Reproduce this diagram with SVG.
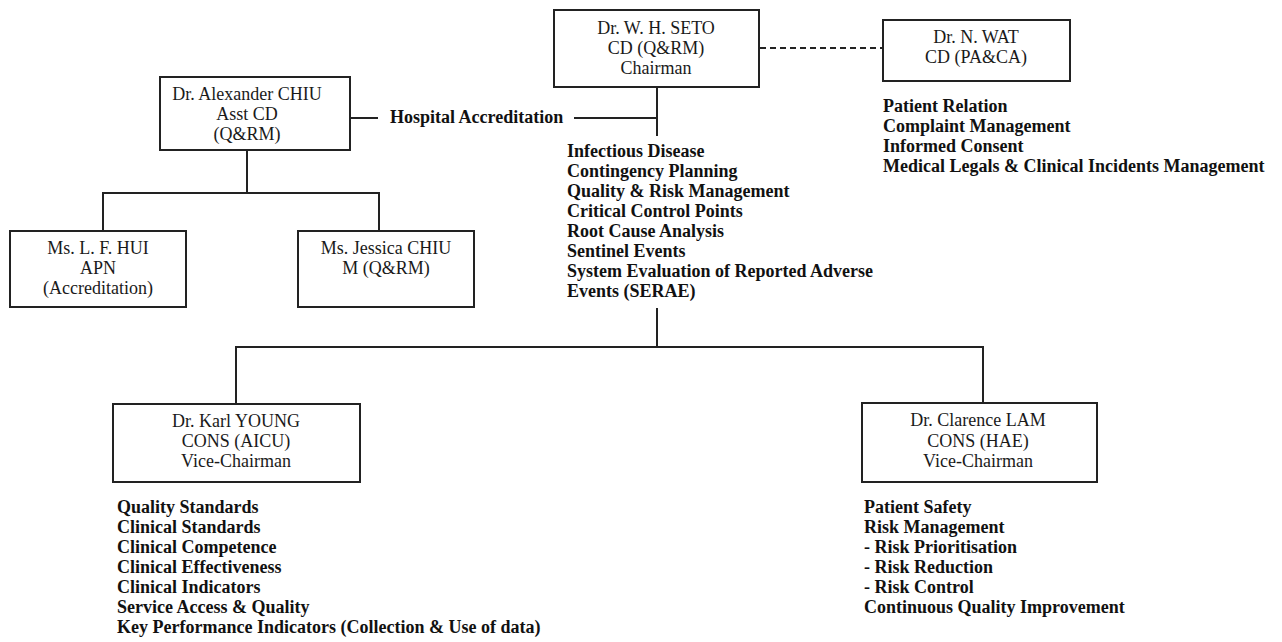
<svg xmlns="http://www.w3.org/2000/svg" width="1282" height="642" viewBox="0 0 1282 642">
  <style>
    .box { fill: #ffffff; stroke: #222222; stroke-width: 2; }
    .line { fill: none; stroke: #222222; stroke-width: 2; }
    .dash { fill: none; stroke: #222222; stroke-width: 2; stroke-dasharray: 6 4; }
    .name { font-family: "Liberation Serif", "Times New Roman", serif; font-size: 18px; fill: #1a1a1a; text-anchor: middle; }
    .duty { font-family: "Liberation Serif", "Times New Roman", serif; font-size: 18px; font-weight: bold; fill: #111111; }
  </style>
  <rect width="1282" height="642" fill="#ffffff"/>

  <!-- connectors -->
  <g id="connectors">
    <line class="dash" x1="760" y1="48" x2="882" y2="48"/>
    <line class="line" x1="657" y1="87" x2="657" y2="136"/>
    <line class="line" x1="350" y1="118" x2="378" y2="118"/>
    <line class="line" x1="574" y1="118" x2="657" y2="118"/>
    <line class="line" x1="247" y1="150" x2="247" y2="193"/>
    <polyline class="line" points="103,231 103,193 379,193 379,231"/>
    <line class="line" x1="657" y1="308" x2="657" y2="347"/>
    <polyline class="line" points="236,404 236,347 983,347 983,403"/>
  </g>

  <g id="seto">
    <rect class="box" x="554" y="10" width="205" height="77"/>
    <text class="name" x="656" y="34">Dr. W. H. SETO</text>
    <text class="name" x="656" y="54">CD (Q&amp;RM)</text>
    <text class="name" x="656" y="74">Chairman</text>
  </g>

  <g id="wat">
    <rect class="box" x="883" y="20" width="187" height="61"/>
    <text class="name" x="976" y="43">Dr. N. WAT</text>
    <text class="name" x="976" y="63">CD (PA&amp;CA)</text>
  </g>

  <g id="wat-duties">
    <text class="duty" x="883" y="112">Patient Relation</text>
    <text class="duty" x="883" y="132">Complaint Management</text>
    <text class="duty" x="883" y="152">Informed Consent</text>
    <text class="duty" x="883" y="172">Medical Legals &amp; Clinical Incidents Management</text>
  </g>

  <g id="chiu-a">
    <rect class="box" x="160" y="77" width="190" height="73"/>
    <text class="name" x="247" y="100">Dr. Alexander CHIU</text>
    <text class="name" x="247" y="120">Asst CD</text>
    <text class="name" x="247" y="140">(Q&amp;RM)</text>
  </g>

  <g id="accreditation">
    <text class="duty" x="390" y="123">Hospital Accreditation</text>
  </g>

  <g id="seto-duties">
    <text class="duty" x="567" y="157">Infectious Disease</text>
    <text class="duty" x="567" y="177">Contingency Planning</text>
    <text class="duty" x="567" y="197">Quality &amp; Risk Management</text>
    <text class="duty" x="567" y="217">Critical Control Points</text>
    <text class="duty" x="567" y="237">Root Cause Analysis</text>
    <text class="duty" x="567" y="257">Sentinel Events</text>
    <text class="duty" x="567" y="277">System Evaluation of Reported Adverse</text>
    <text class="duty" x="567" y="297">Events (SERAE)</text>
  </g>

  <g id="hui">
    <rect class="box" x="10" y="231" width="176" height="76"/>
    <text class="name" x="98" y="254">Ms. L. F. HUI</text>
    <text class="name" x="98" y="274">APN</text>
    <text class="name" x="98" y="294">(Accreditation)</text>
  </g>

  <g id="chiu-j">
    <rect class="box" x="298" y="231" width="176" height="76"/>
    <text class="name" x="386" y="254">Ms. Jessica CHIU</text>
    <text class="name" x="386" y="274">M (Q&amp;RM)</text>
  </g>

  <g id="young">
    <rect class="box" x="113" y="404" width="247" height="78"/>
    <text class="name" x="236" y="427">Dr. Karl YOUNG</text>
    <text class="name" x="236" y="447">CONS (AICU)</text>
    <text class="name" x="236" y="467">Vice-Chairman</text>
  </g>

  <g id="young-duties">
    <text class="duty" x="117" y="513">Quality Standards</text>
    <text class="duty" x="117" y="533">Clinical Standards</text>
    <text class="duty" x="117" y="553">Clinical Competence</text>
    <text class="duty" x="117" y="573">Clinical Effectiveness</text>
    <text class="duty" x="117" y="593">Clinical Indicators</text>
    <text class="duty" x="117" y="613">Service Access &amp; Quality</text>
    <text class="duty" x="117" y="633">Key Performance Indicators (Collection &amp; Use of data)</text>
  </g>

  <g id="lam">
    <rect class="box" x="862" y="403" width="235" height="79"/>
    <text class="name" x="978" y="426">Dr. Clarence LAM</text>
    <text class="name" x="978" y="447">CONS (HAE)</text>
    <text class="name" x="978" y="467">Vice-Chairman</text>
  </g>

  <g id="lam-duties">
    <text class="duty" x="864" y="513">Patient Safety</text>
    <text class="duty" x="864" y="533">Risk Management</text>
    <text class="duty" x="864" y="553">- Risk Prioritisation</text>
    <text class="duty" x="864" y="573">- Risk Reduction</text>
    <text class="duty" x="864" y="593">- Risk Control</text>
    <text class="duty" x="864" y="613">Continuous Quality Improvement</text>
  </g>
</svg>
